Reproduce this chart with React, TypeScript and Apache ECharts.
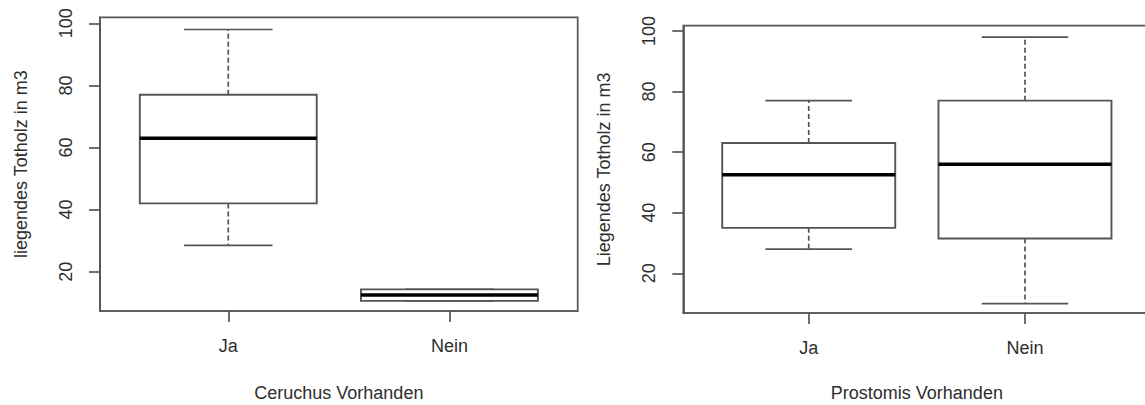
import React, { useEffect, useRef } from "react";
import * as echarts from "echarts";

// Group names on the x axis
const groups = ["Ja", "Nein"];
const groupPos = [1, 2];

// Five-number summaries: lower whisker, Q1, median, Q3, upper whisker
const ceruchusJa = [28.5, 42, 63, 77, 98];
const ceruchusNein = [10.6, 10.6, 12.5, 14.3, 14.3];
const prostomisJa = [28, 35, 52.5, 63, 77];
const prostomisNein = [10, 31.5, 56, 77, 98];

const yTicks = [20, 40, 60, 80, 100];

const yTitleLeft = "liegendes Totholz in m3";
const yTitleRight = "Liegendes Totholz in m3";
const xTitleLeft = "Ceruchus Vorhanden";
const xTitleRight = "Prostomis Vorhanden";

const FONT = "'Liberation Sans', Arial, Helvetica, sans-serif";
const TEXT = "#2e2e2e";
const LINE = "#555555";
const FS = 18;

function renderBox(params: any, api: any) {
  const x = api.value(0);
  const lo = api.value(1);
  const q1 = api.value(2);
  const med = api.value(3);
  const q3 = api.value(4);
  const hi = api.value(5);
  const half = api.size([0.8, 0])[0] / 2;
  const cap = half / 2;
  const cx = api.coord([x, med])[0];
  const y = (v: number) => api.coord([x, v])[1];
  const solid = { stroke: LINE, lineWidth: 1.7, fill: null };
  const dashed = { stroke: LINE, lineWidth: 1.7, lineDash: [5, 3], fill: null };
  return {
    type: "group",
    children: [
      { type: "line", shape: { x1: cx, y1: y(q3), x2: cx, y2: y(hi) }, style: dashed },
      { type: "line", shape: { x1: cx, y1: y(q1), x2: cx, y2: y(lo) }, style: dashed },
      { type: "line", shape: { x1: cx - cap, y1: y(hi), x2: cx + cap, y2: y(hi) }, style: solid },
      { type: "line", shape: { x1: cx - cap, y1: y(lo), x2: cx + cap, y2: y(lo) }, style: solid },
      {
        type: "rect",
        shape: { x: cx - half, y: y(q3), width: half * 2, height: y(q1) - y(q3) },
        style: { stroke: LINE, lineWidth: 1.9, fill: "#ffffff" },
      },
      {
        type: "line",
        shape: { x1: cx - half, y1: y(med), x2: cx + half, y2: y(med) },
        style: { stroke: "#000000", lineWidth: 3.5 },
      },
    ],
  };
}

function xAxis(gridIndex: number, name: string, nameGap: number) {
  return {
    type: "value",
    gridIndex,
    min: 0.42,
    max: 2.58,
    name,
    nameLocation: "middle",
    nameGap,
    nameTextStyle: { fontFamily: FONT, fontSize: FS, color: TEXT },
    axisLine: { show: true, lineStyle: { color: LINE, width: 1.7 } },
    axisTick: { show: true, length: 11, customValues: groupPos, lineStyle: { color: LINE, width: 1.7 } },
    axisLabel: {
      show: true,
      customValues: groupPos,
      margin: 26,
      fontFamily: FONT,
      fontSize: FS,
      color: TEXT,
      formatter: (v: number) => groups[Math.round(v) - 1] ?? "",
    },
    splitLine: { show: false },
  };
}

function yAxis(gridIndex: number, name: string, min: number, max: number) {
  return {
    type: "value",
    gridIndex,
    min,
    max,
    name,
    nameLocation: "middle",
    nameRotate: 90,
    nameGap: 70,
    nameTextStyle: { fontFamily: FONT, fontSize: FS, color: TEXT },
    axisLine: { show: true, lineStyle: { color: LINE, width: 1.7 } },
    axisTick: { show: true, length: 11, customValues: yTicks, lineStyle: { color: LINE, width: 1.7 } },
    axisLabel: {
      show: true,
      customValues: yTicks,
      rotate: 90,
      margin: 25.5,
      fontFamily: FONT,
      fontSize: FS,
      color: TEXT,
    },
    splitLine: { show: false },
  };
}

function boxSeries(index: number, ja: number[], nein: number[]) {
  return {
    type: "custom",
    xAxisIndex: index,
    yAxisIndex: index,
    renderItem: renderBox,
    encode: { x: 0, y: [1, 2, 3, 4, 5] },
    data: [
      [groupPos[0], ...ja],
      [groupPos[1], ...nein],
    ],
    clip: false,
  };
}

export default function App() {
  const ref = useRef<HTMLDivElement>(null);

  useEffect(() => {
    if (!ref.current) return;
    const chart = echarts.init(ref.current, undefined, { renderer: "svg" });
    chart.setOption({
      animation: false,
      backgroundColor: "#ffffff",
      grid: [
        {
          left: 100,
          top: 17.3,
          width: 477.7,
          height: 293.7,
          outerBoundsMode: "none",
          containLabel: false,
          show: true,
          borderColor: LINE,
          borderWidth: 1.7,
          backgroundColor: "transparent",
        },
        {
          left: 683.3,
          top: 25.7,
          width: 467.1,
          height: 287.3,
          outerBoundsMode: "none",
          containLabel: false,
          show: true,
          borderColor: LINE,
          borderWidth: 1.7,
          backgroundColor: "transparent",
        },
      ],
      xAxis: [xAxis(0, xTitleLeft, 73), xAxis(1, xTitleRight, 71)],
      yAxis: [yAxis(0, yTitleLeft, 7.34, 101.93), yAxis(1, yTitleRight, 6.89, 101.75)],
      series: [boxSeries(0, ceruchusJa, ceruchusNein), boxSeries(1, prostomisJa, prostomisNein)],
    });
    return () => chart.dispose();
  }, []);

  return (
    <div
      ref={ref}
      style={{ position: "fixed", left: 0, top: 0, width: 1145, height: 405, background: "#fff" }}
    />
  );
}
